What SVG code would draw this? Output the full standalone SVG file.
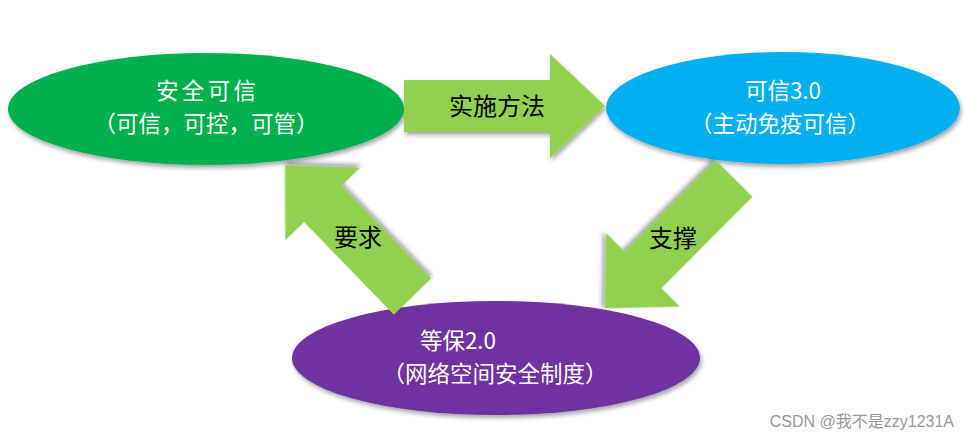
<svg xmlns="http://www.w3.org/2000/svg" width="970" height="441" viewBox="0 0 970 441">
<defs>
<filter id="sh" x="-15%" y="-15%" width="135%" height="145%">
<feDropShadow dx="1.5" dy="3" stdDeviation="2" flood-color="#000" flood-opacity="0.35"/>
</filter>
<style>
.nt{font-family:"Noto Sans CJK SC","Noto Sans",sans-serif;font-size:22.5px;fill:#fff;text-anchor:middle}
.lt{font-family:"Noto Sans CJK SC","Noto Sans",sans-serif;font-size:24px;fill:#000;text-anchor:middle}
.arr{fill:#92D050;filter:url(#sh)}
.wm{font-family:"Liberation Sans","Noto Sans CJK SC",sans-serif;font-size:16px;fill:#999;text-anchor:end}
</style>
</defs>
<rect width="970" height="441" fill="#fff"/>
<g id="node-anquan">
<ellipse cx="206" cy="109" rx="198" ry="56" fill="#00B050" filter="url(#sh)"/>
<text class="nt" x="206" y="99" textLength="100">安全可信</text>
<text class="nt" x="206" y="132">（可信，可控，可管）</text>
</g>
<g id="node-kexin">
<ellipse cx="783" cy="108" rx="177" ry="56" fill="#00B0F0" filter="url(#sh)"/>
<text class="nt" x="783" y="99">可信3.0</text>
<text class="nt" x="780" y="132">（主动免疫可信）</text>
</g>
<g id="node-dengbao">
<ellipse cx="496" cy="358" rx="204" ry="57" fill="#7030A0" filter="url(#sh)"/>
<text class="nt" x="458" y="349">等保2.0</text>
<text class="nt" x="495" y="382">（网络空间安全制度）</text>
</g>
<g id="connectors">
<polygon class="arr" points="404,80 550,80 550,54 605,106 550,158 550,132 404,132"/>
<polygon class="arr" transform="translate(412.5,296.5) rotate(225.9)" points="0,-26 129,-26 129,-52 183,0 129,52 129,26 0,26"/>
<polygon class="arr" transform="translate(734,178.5) rotate(134.9)" points="0,-26 129,-26 129,-52 183,0 129,52 129,26 0,26"/>
<text class="lt" x="497" y="115">实施方法</text>
<text class="lt" x="358" y="246">要求</text>
<text class="lt" x="673" y="247">支撑</text>
</g>
<text class="wm" x="954" y="427">CSDN @我不是zzy1231A</text>
</svg>
